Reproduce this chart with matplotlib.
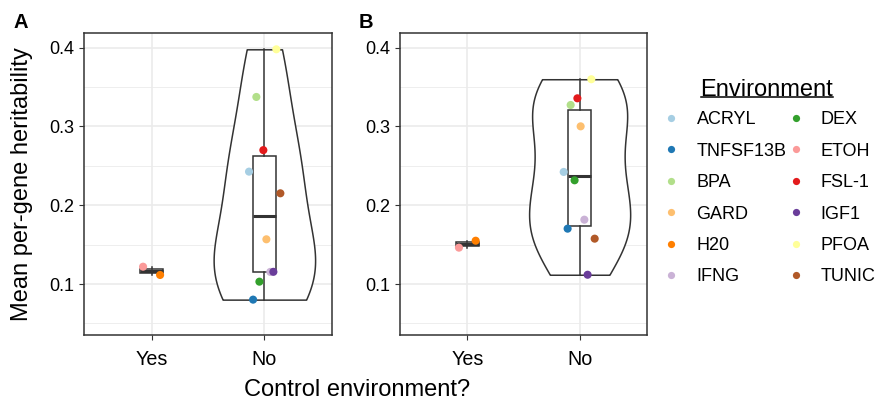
import numpy as np
import matplotlib
matplotlib.use('Agg')
from matplotlib import pyplot as plt
from matplotlib.lines import Line2D

plt.rcParams['font.family'] = ['Liberation Sans', 'DejaVu Sans']

# environments, in colour order (Paired palette)
envs = ['ACRYL', 'TNFSF13B', 'BPA', 'DEX', 'ETOH', 'FSL-1',
        'GARD', 'H20', 'IFNG', 'IGF1', 'PFOA', 'TUNIC']
env_colors = ['#A6CEE3', '#1F78B4', '#B2DF8A', '#33A02C', '#FB9A99', '#E31A1C',
              '#FDBF6F', '#FF7F00', '#CAB2D6', '#6A3D9A', '#FFFF99', '#B15928']
control_envs = ['ETOH', 'H20']
categories = ['Yes', 'No']

# mean per-gene heritability, one value per environment
herit_a = [0.2427, 0.0802, 0.3375, 0.1030, 0.1220, 0.2700,
           0.1568, 0.1115, 0.1154, 0.1155, 0.3980, 0.2152]
herit_b = [0.2423, 0.1703, 0.3273, 0.2317, 0.1462, 0.3358,
           0.3002, 0.1550, 0.1817, 0.1118, 0.3600, 0.1576]

# horizontal jitter
jitter_a = [-0.136, -0.100, -0.071, -0.044, -0.076, -0.009,
            0.018, 0.075, 0.053, 0.080, 0.106, 0.142]
jitter_b = [-0.142, -0.107, -0.080, -0.045, -0.075, -0.020,
            0.009, 0.074, 0.042, 0.071, 0.104, 0.134]

# legend layout (two columns as in the original)
legend_order = ['ACRYL', 'TNFSF13B', 'BPA', 'GARD', 'H20', 'IFNG',
                'DEX', 'ETOH', 'FSL-1', 'IGF1', 'PFOA', 'TUNIC']

DARK = '#333333'
GRID = '#EBEBEB'


def nrd0(x):
    sd = np.std(x, ddof=1)
    q1, q3 = np.percentile(x, [25, 75])
    lo = min(sd, (q3 - q1) / 1.34)
    return 0.9 * lo * len(x) ** -0.2, sd


def plot_panel(ax, values, jitter):
    values = np.asarray(values)
    is_ctrl = np.array([e in control_envs for e in envs])
    groups = [values[is_ctrl], values[~is_ctrl]]

    # violin for the non-control group
    bw, sd = nrd0(groups[1])
    parts = ax.violinplot([groups[1]], positions=[2], widths=0.9, points=512,
                          bw_method=bw / sd, showextrema=False)
    for body in parts['bodies']:
        body.set_facecolor('white')
        body.set_edgecolor(DARK)
        body.set_linewidth(1.1)
        body.set_alpha(1)
        body.set_zorder(2)

    ax.boxplot(groups, positions=[1, 2], widths=0.2, showcaps=False,
               showfliers=False, patch_artist=True, zorder=3,
               boxprops=dict(facecolor='white', edgecolor=DARK, linewidth=1.1),
               whiskerprops=dict(color=DARK, linewidth=1.1),
               medianprops=dict(color=DARK, linewidth=2.2))

    x = np.where(is_ctrl, 1, 2) + np.asarray(jitter)
    ax.scatter(x, values, c=env_colors, s=34, edgecolors='none', zorder=4)

    ax.set_xlim(0.4, 2.6)
    ax.set_ylim(0.0353, 0.4187)
    ax.set_xticks([1, 2])
    ax.set_xticklabels(categories, fontsize=14.2)
    ax.set_yticks([0.1, 0.2, 0.3, 0.4])
    ax.set_yticklabels(['0.1', '0.2', '0.3', '0.4'], fontsize=13)
    ax.set_yticks([0.05, 0.15, 0.25, 0.35], minor=True)
    ax.grid(which='major', color=GRID, linewidth=1.2, zorder=0)
    ax.grid(which='minor', axis='y', color=GRID, linewidth=0.6, zorder=0)
    ax.set_axisbelow(True)
    ax.tick_params(axis='x', which='major', length=3.6, width=0.8, color=DARK, pad=7.5)
    ax.tick_params(axis='y', which='major', length=3.4, width=0.8, color=DARK, pad=3.5)
    ax.tick_params(which='minor', length=0)
    for s in ax.spines.values():
        s.set_color(DARK)
        s.set_linewidth(1.1)


fig = plt.figure(figsize=(8.75, 4.11), dpi=100)
W, H = 875, 411
ax_a = fig.add_axes([84 / W, 1 - 335 / H, 248 / W, 302 / H])
ax_b = fig.add_axes([400 / W, 1 - 335 / H, 247 / W, 302 / H])

plot_panel(ax_a, herit_a, jitter_a)
plot_panel(ax_b, herit_b, jitter_b)

ax_a.set_ylabel('Mean per-gene heritability', fontsize=17)
ax_a.yaxis.set_label_coords(-0.205, 0.5)

fig.text(357 / W, 1 - 390 / H, 'Control environment?', fontsize=17,
         ha='center', va='center')
fig.text(14 / W, 1 - 23 / H, 'A', fontsize=14.5, fontweight='bold', va='center')
fig.text(359 / W, 1 - 23 / H, 'B', fontsize=14.5, fontweight='bold', va='center')

handles = [Line2D([], [], marker='o', ls='', markersize=5.2, markeredgewidth=0,
                  color=env_colors[envs.index(e)]) for e in legend_order]
leg = fig.legend(handles, legend_order, ncol=2, loc='upper left',
                 bbox_to_anchor=(646 / W, 1 - 95 / H), frameon=False,
                 fontsize=13, handlelength=1.0, handletextpad=0.9,
                 columnspacing=0.0, labelspacing=0.8, borderpad=0.4)

# legend title, drawn on its own and underlined
title = fig.text(767 / W, 1 - 90 / H, 'Environment', fontsize=17,
                 ha='center', va='center')
fig.canvas.draw()
bb = title.get_window_extent(fig.canvas.get_renderer())
uy = bb.y0 + 0.2 * bb.height
fig.add_artist(Line2D([bb.x0 / W, bb.x1 / W], [uy / H, uy / H],
                      transform=fig.transFigure, color='black', linewidth=1.1))

fig.savefig('out.png', dpi=100)
